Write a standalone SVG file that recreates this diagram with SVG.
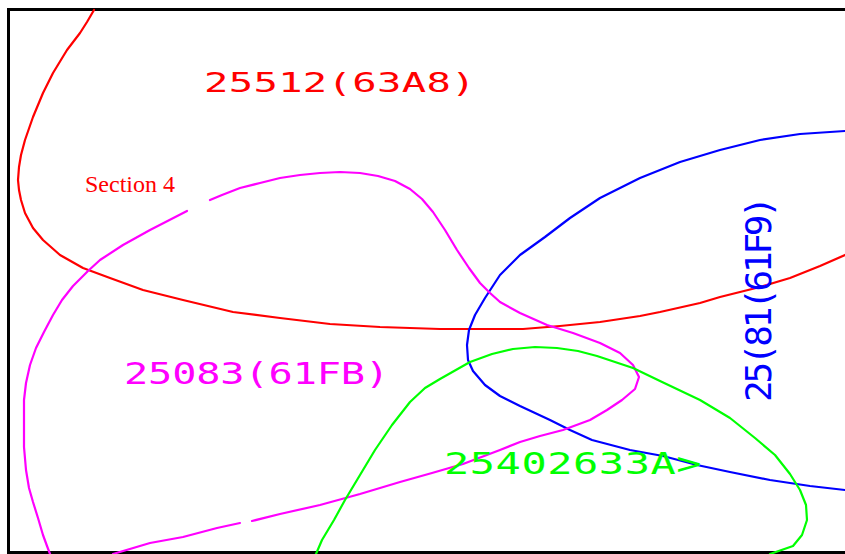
<svg xmlns="http://www.w3.org/2000/svg" width="845" height="554" viewBox="0 0 845 554">
<style>
.c{fill:none;stroke-width:2.2;stroke-linejoin:round;stroke-linecap:round}
.lbl{font-family:"DejaVu Sans Mono","Liberation Mono",monospace}
</style>
<rect x="0" y="0" width="845" height="554" fill="#fff"/>
<g id="frame">
<rect x="8.5" y="9.5" width="845" height="543" fill="none" stroke="#000" stroke-width="3"/>
</g>
<g id="connectors">
<polyline class="c" stroke="#f00" points="94,10 87,22 80,33 67,50 53,73 43,93 33,117 25,140 21,155 19,167 18,180 19,190 21,200 25,213 33,228 43,240 60,255 83,268 110,278 143,290 183,300 233,312 280,318 330,324 380,327 440,329 523,329 560,326 600,322 640,316 660,312 700,303 720,297 760,287 790,278 820,266 845,255"/>
<polyline class="c" stroke="#00f" points="845,131 800,134 760,140 720,150 680,162 640,178 600,198 570,218 545,237 520,255 500,275 485,298 475,315 469,330 467,345 468,360 473,371 485,385 500,396 520,406 550,420 570,430 592,440 630,450 663,456 697,465 730,472 770,480 810,486 845,490"/>
<polyline class="c" stroke="#f0f" points="210,200 222,195 240,188 260,183 280,178 300,175 320,173 340,172 360,173 378,176 395,181 410,189 422,199 433,212 445,230 457,250 469,268 480,283 490,293 500,302 520,313 547,325 573,333 600,343 620,353 633,365 639,377 635,389 622,400 607,410 590,420 563,430 540,436 520,442 500,450 463,464 432,473 400,482 360,494 320,505 280,514 252,521"/>
<polyline class="c" stroke="#f0f" points="240,523 217,528 183,537 150,543 113,554"/>
<polyline class="c" stroke="#f0f" points="187,211 150,230 123,245 100,260 88,271 73,286 62,300 53,315 44,332 36,348 30,365 26,383 24,400 24,420 24,447 26,470 29,488 33,502 38,518 43,535 47,546 50,554"/>
<polyline class="c" stroke="#0f0" points="316,554 322,540 334,520 345,500 360,475 375,450 392,425 410,402 425,388 440,379 470,362 492,354 513,349 535,347 557,348 578,351 597,356 615,362 633,368 660,381 700,400 730,418 755,438 775,455 790,474 800,490 806,505 807,520 802,535 793,546 770,554"/>
</g>
<g id="label-25512">
<text class="lbl" fill="#f00" font-size="27" transform="translate(204,92) scale(1.5,1)" textLength="181" lengthAdjust="spacing">25512(63A8)</text>
</g>
<g id="label-25083">
<text class="lbl" fill="#f0f" font-size="31" transform="translate(124,384) scale(1.3,1)" textLength="204" lengthAdjust="spacing">25083(61FB)</text>
</g>
<g id="label-25402">
<text class="lbl" fill="#0f0" font-size="30" transform="translate(444,474) scale(1.4,1)" textLength="184" lengthAdjust="spacing">25402633A&gt;</text>
</g>
<g id="label-25081">
<text class="lbl" fill="#00f" font-size="36" transform="translate(771,402) rotate(-90)" textLength="206" lengthAdjust="spacing">25(81(61F9)</text>
</g>
<g id="section-label">
<text x="85" y="192" fill="#f00" font-family="'Liberation Serif','Times New Roman',serif" font-size="24">Section 4</text>
</g>
</svg>
